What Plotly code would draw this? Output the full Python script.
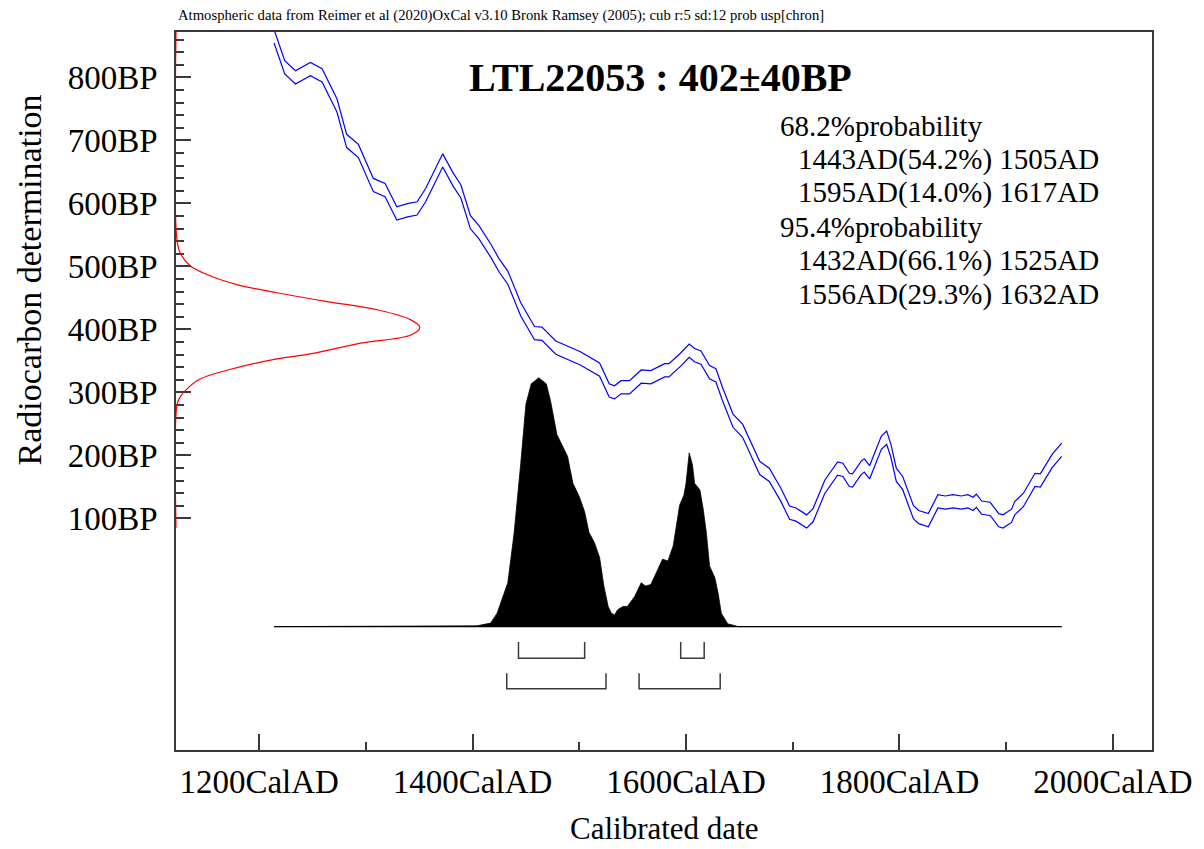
import plotly.graph_objects as go

# ---------------- data ----------------
# calibration curve (centre, BP)
cal_years = [1214, 1224, 1234, 1248, 1259, 1273, 1282, 1293, 1307, 1318, 1329, 1339, 1348, 1356,
             1372, 1382, 1389, 1398, 1406, 1417, 1425, 1433, 1445, 1458, 1465, 1478, 1494, 1501,
             1519, 1528, 1533, 1539, 1547, 1558, 1567, 1580, 1584, 1595, 1603, 1608, 1614, 1622,
             1628, 1634, 1644, 1653, 1669, 1678, 1689, 1697, 1703, 1713, 1719, 1730, 1742, 1747,
             1753, 1756, 1764, 1767, 1772, 1783, 1788, 1792, 1797, 1803, 1813, 1818, 1827, 1836,
             1843, 1850, 1858, 1864, 1869, 1872, 1877, 1885, 1893, 1897, 1905, 1908, 1916, 1927,
             1932, 1943, 1952]
cal_bp = [865, 816, 800, 813, 803, 755, 699, 683, 629, 621, 584, 589, 592, 613,
          668, 637, 619, 570, 554, 525, 501, 482, 432, 394, 393, 371, 359, 354,
          336, 303, 300, 308, 308, 325, 324, 335, 335, 352, 366, 359, 355, 332,
          327, 298, 255, 239, 180, 169, 137, 109, 106, 95, 105, 150, 179, 177,
          161, 160, 180, 184, 173, 220, 228, 207, 169, 156, 110, 102, 97, 127,
          125, 127, 125, 127, 123, 128, 117, 115, 97, 95, 104, 116, 129, 161,
          160, 191, 209]
cal_err = 10.5

# calibrated probability distribution (relative)
dist_years = [1214, 1400, 1404, 1417, 1423, 1433, 1439, 1445, 1450, 1455, 1462, 1469, 1473, 1479,
              1483, 1489, 1494, 1500, 1505, 1509, 1514, 1519, 1523, 1527, 1530, 1533, 1536, 1541,
              1545, 1552, 1558, 1562, 1567, 1570, 1578, 1583, 1588, 1594, 1598, 1600, 1603, 1606,
              1608, 1613, 1616, 1619, 1622, 1627, 1630, 1633, 1639, 1649, 1952]
dist_prob = [0.0, 0.0, 0.003, 0.014, 0.054, 0.176, 0.379, 0.650, 0.894, 0.976, 1.0, 0.976, 0.908, 0.772,
             0.739, 0.684, 0.576, 0.522, 0.461, 0.379, 0.339, 0.278, 0.163, 0.081, 0.054, 0.047, 0.068, 0.081,
             0.081, 0.122, 0.176, 0.163, 0.169, 0.196, 0.271, 0.264, 0.325, 0.488, 0.528, 0.576, 0.698, 0.650,
             0.576, 0.549, 0.474, 0.379, 0.244, 0.196, 0.135, 0.054, 0.011, 0.0, 0.0]

# radiocarbon measurement curve (relative)
meas_bp = [85, 280, 292, 305, 321, 335, 353, 361, 378, 391, 403, 415, 431, 444, 458, 471, 485, 501, 522, 545, 872]
meas_amp = [0.0, 0.004, 0.016, 0.044, 0.099, 0.209, 0.414, 0.551, 0.757, 0.963, 1.0, 0.963, 0.826, 0.62, 0.414,
            0.25, 0.14, 0.058, 0.016, 0.003, 0.0]

# ranges
range68 = [(1443, 1505), (1595, 1617)]
range95 = [(1432, 1525), (1556, 1632)]

x_major = [1200, 1400, 1600, 1800, 2000]
x_labels = ["1200CalAD", "1400CalAD", "1600CalAD", "1800CalAD", "2000CalAD"]
y_major = [100, 200, 300, 400, 500, 600, 700, 800]
y_labels = ["100BP", "200BP", "300BP", "400BP", "500BP", "600BP", "700BP", "800BP"]
y_minor = [v for v in range(120, 880, 20) if v % 100 != 0]

title_text = "LTL22053 : 402±40BP"
source_text = "Atmospheric data from Reimer et al (2020)OxCal v3.10 Bronk Ramsey (2005); cub r:5 sd:12 prob usp[chron]"
prob_lines = ["68.2%probability", "1443AD(54.2%) 1505AD", "1595AD(14.0%) 1617AD",
              "95.4%probability", "1432AD(66.1%) 1525AD", "1556AD(29.3%) 1632AD"]

# ---------------- figure ----------------
FONT = "Liberation Serif, Times New Roman, serif"
AX = "#3a3a3a"

fig = go.Figure()

# calibration curve band edges
fig.add_trace(go.Scatter(x=cal_years, y=[b + cal_err for b in cal_bp], mode="lines",
                         line=dict(color="#0000ff", width=1.2), hoverinfo="skip"))
fig.add_trace(go.Scatter(x=cal_years, y=[b - cal_err for b in cal_bp], mode="lines",
                         line=dict(color="#0000ff", width=1.2), hoverinfo="skip"))

# probability distribution
fig.add_trace(go.Scatter(x=dist_years, y=dist_prob, mode="lines", fill="tozeroy",
                         fillcolor="black", line=dict(color="black", width=0.8),
                         yaxis="y2", hoverinfo="skip"))
fig.add_trace(go.Scatter(x=[cal_years[0], cal_years[-1]], y=[0, 0], mode="lines",
                         line=dict(color="black", width=1.3), yaxis="y2", hoverinfo="skip"))

# range brackets
def bracket(lo, hi, base, tip):
    return go.Scatter(x=[lo, lo, hi, hi], y=[tip, base, base, tip], mode="lines",
                      line=dict(color=AX, width=1.5), yaxis="y2", hoverinfo="skip")

for lo, hi in range68:
    fig.add_trace(bracket(lo, hi, -0.127, -0.062))
for lo, hi in range95:
    fig.add_trace(bracket(lo, hi, -0.250, -0.188))

# measurement curve (red) along the y axis
fig.add_trace(go.Scatter(x=meas_amp, y=meas_bp, mode="lines", line=dict(color="red", width=1.2),
                         xaxis="x2", yaxis="y", hoverinfo="skip", line_shape="spline"))

# page body has an 8px margin: figure is 8px smaller and margins shifted by 8px
fig.update_layout(
    width=1196, height=841,
    margin=dict(l=168, r=46, t=24, b=99),
    paper_bgcolor="white", plot_bgcolor="white",
    showlegend=False,
    font=dict(family=FONT, color="black"),
    xaxis=dict(range=[1122.1, 2036.6], tickmode="array", tickvals=x_major, ticktext=x_labels,
               ticks="inside", ticklen=16, tickwidth=1.5, tickcolor=AX,
               minor=dict(tickvals=[1300, 1500, 1700, 1900], ticks="inside", ticklen=8,
                          tickwidth=1.5, tickcolor=AX),
               showline=True, linecolor=AX, linewidth=1.5, mirror=True,
               showgrid=False, zeroline=False, tickfont=dict(size=33, family=FONT),
               ticklabelstandoff=2, layer="below traces"),
    yaxis=dict(range=[-267.7, 871.9], tickmode="array", tickvals=y_major, ticktext=y_labels,
               ticks="inside", ticklen=15, tickwidth=1.5, tickcolor=AX,
               minor=dict(tickvals=y_minor, ticks="inside", ticklen=8, tickwidth=1.5, tickcolor=AX),
               showline=True, linecolor=AX, linewidth=1.5, mirror=True,
               showgrid=False, zeroline=False, tickfont=dict(size=33, family=FONT),
               ticklabelstandoff=10, layer="below traces"),
    yaxis2=dict(range=[-0.496, 2.390], overlaying="y", visible=False, fixedrange=True),
    xaxis2=dict(range=[0, 4.003], overlaying="x", visible=False, fixedrange=True),
)

# texts (positions given in page pixels of the plot area: x 176..1150, y 32..742)
def px_x(p):
    return (p - 176) / 974

def px_y(p):
    return 1 - (p - 32) / 710

fig.add_annotation(text=source_text, xref="paper", yref="paper", x=px_x(176), y=px_y(16),
                   xanchor="left", yanchor="middle", showarrow=False,
                   font=dict(size=14.7, family=FONT, color="black"))
fig.add_annotation(text="<b>" + title_text + "</b>", xref="paper", yref="paper", x=px_x(660), y=px_y(77),
                   xanchor="center", yanchor="middle", showarrow=False,
                   font=dict(size=40, family=FONT, color="black"))

line_y = [125, 158, 191, 225, 258, 292]
for txt, py in zip(prob_lines, line_y):
    indent = not txt.endswith("probability")
    px = 795 if indent else 777
    fig.add_annotation(text=txt, xref="paper", yref="paper",
                       x=px_x(px), y=px_y(py),
                       xanchor="left", yanchor="middle", showarrow=False,
                       font=dict(size=29, family=FONT, color="black"))

fig.add_annotation(text="Radiocarbon determination", xref="paper", yref="paper",
                   x=px_x(30), y=px_y(277), textangle=-90,
                   xanchor="center", yanchor="middle", showarrow=False,
                   font=dict(size=34, family=FONT, color="black"))
fig.add_annotation(text="Calibrated date", xref="paper", yref="paper",
                   x=px_x(663), y=px_y(820),
                   xanchor="center", yanchor="middle", showarrow=False,
                   font=dict(size=31, family=FONT, color="black"))

fig.write_html("out.html")
